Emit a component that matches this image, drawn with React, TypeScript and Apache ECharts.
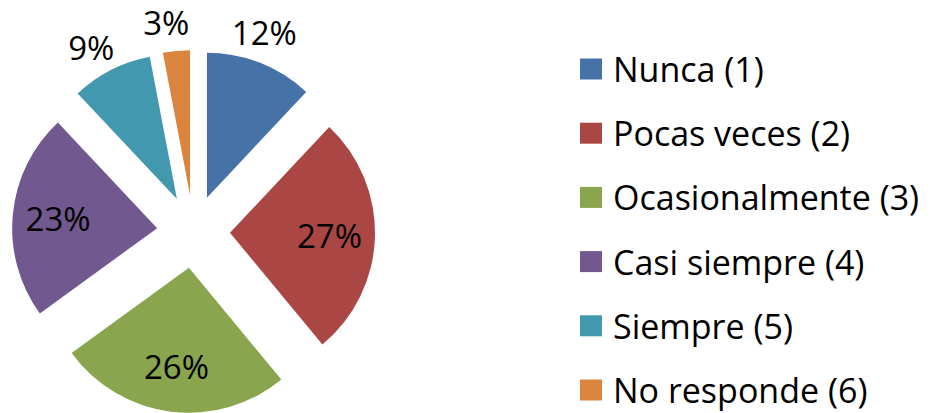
import React, { useEffect, useRef } from "react";
import * as echarts from "echarts";

const categories = [
  "Nunca (1)",
  "Pocas veces (2)",
  "Ocasionalmente (3)",
  "Casi siempre (4)",
  "Siempre (5)",
  "No responde (6)",
];
const values = [12, 27, 26, 23, 9, 3];
const colors = ["#4572A7", "#AA4643", "#89A54E", "#71588F", "#4198AF", "#DB843D"];

const FONT = "Open Sans";

export default function App() {
  const ref = useRef<HTMLDivElement>(null);
  useEffect(() => {
    if (!ref.current) return;
    const chart = echarts.init(ref.current, undefined, { renderer: "svg" });
    const center = [193.5, 231.6];
    const labelStyle = {
      color: "#000",
      fontFamily: FONT,
      fontSize: 33,
      lineHeight: 28,
      formatter: "{c}%",
      position: "inside",
    };
    const labelData = (inside: boolean) =>
      categories.map((name, i) => ({
        name,
        value: values[i],
        label: { show: (values[i] > 15) === inside },
      }));
    chart.setOption({
      animation: false,
      legend: {
        orient: "vertical",
        left: 580,
        top: 49,
        height: 405,
        padding: 0,
        itemWidth: 22,
        itemHeight: 21,
        itemGap: 24.2,
        icon: "rect",
        selectedMode: false,
        textStyle: { fontFamily: FONT, fontSize: 34, color: "#000", lineHeight: 40, padding: [0, 0, 0, 6] },
        data: categories.map((name, i) => ({ name, itemStyle: { color: colors[i] } })),
      },
      series: [
        {
          type: "pie",
          center,
          radius: [0, 145],
          startAngle: 90,
          clockwise: true,
          selectedMode: "multiple",
          selectedOffset: 36.5,
          silent: true,
          label: { show: false },
          labelLine: { show: false },
          emphasis: { disabled: true },
          data: categories.map((name, i) => ({
            name,
            value: values[i],
            selected: true,
            itemStyle: { color: colors[i] },
          })),
        },
        {
          type: "pie",
          center,
          radius: [118, 148],
          startAngle: 90,
          clockwise: true,
          silent: true,
          avoidLabelOverlap: false,
          itemStyle: { color: "transparent" },
          label: labelStyle,
          labelLine: { show: false },
          emphasis: { disabled: true },
          data: labelData(true),
        },
        {
          type: "pie",
          center,
          radius: [194, 222],
          startAngle: 92,
          clockwise: true,
          silent: true,
          avoidLabelOverlap: false,
          itemStyle: { color: "transparent" },
          label: labelStyle,
          labelLine: { show: false },
          emphasis: { disabled: true },
          data: labelData(false),
        },
      ],
    });
    return () => chart.dispose();
  }, []);
  return (
    <div
      ref={ref}
      style={{ position: "absolute", left: 0, top: 0, width: 935, height: 413, background: "#fff" }}
    />
  );
}
